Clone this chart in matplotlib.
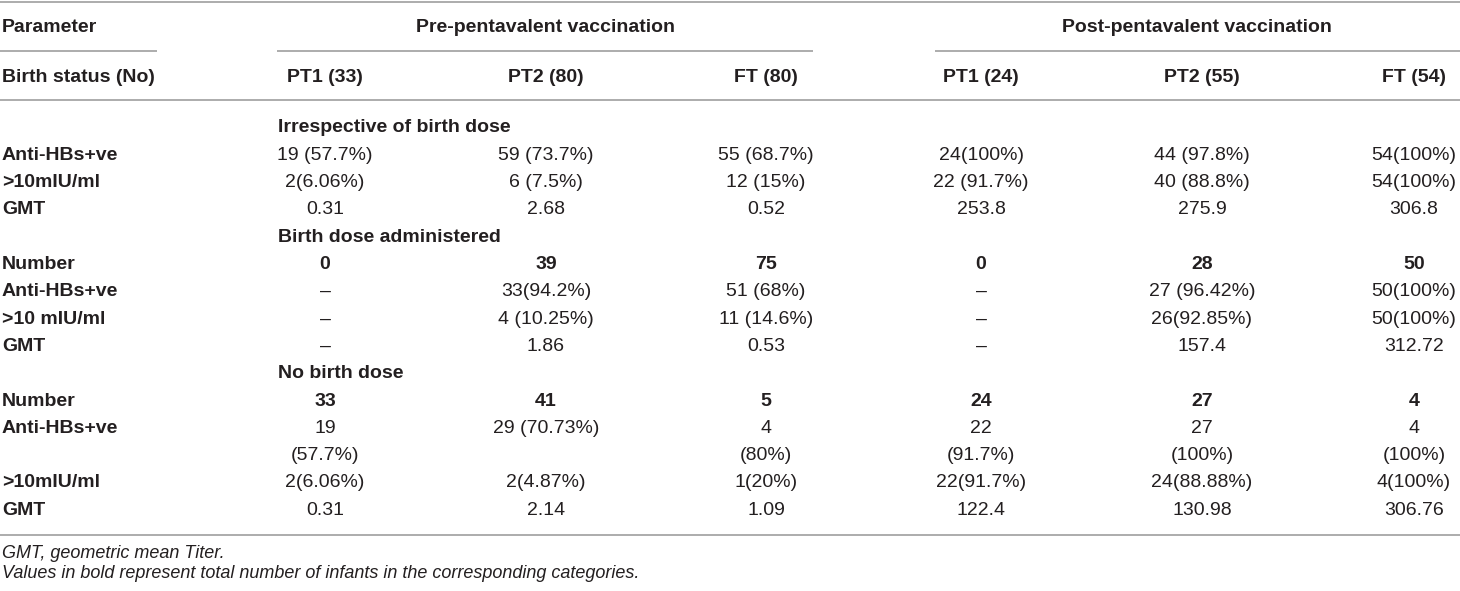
import matplotlib
matplotlib.use("Agg")
import matplotlib.pyplot as plt

plt.rcParams['font.family'] = ['Liberation Sans', 'DejaVu Sans']

# --- table content ---
groups = ["Pre-pentavalent vaccination", "Post-pentavalent vaccination"]
columns = ["PT1 (33)", "PT2 (80)", "FT (80)", "PT1 (24)", "PT2 (55)", "FT (54)"]
sections = ["Irrespective of birth dose", "Birth dose administered", "No birth dose"]

irr_labels = ["Anti-HBs+ve", ">10mIU/ml", "GMT"]
irr_anti = ["19 (57.7%)", "59 (73.7%)", "55 (68.7%)", "24(100%)", "44 (97.8%)", "54(100%)"]
irr_10 = ["2(6.06%)", "6 (7.5%)", "12 (15%)", "22 (91.7%)", "40 (88.8%)", "54(100%)"]
irr_gmt = ["0.31", "2.68", "0.52", "253.8", "275.9", "306.8"]

dose_labels = ["Number", "Anti-HBs+ve", ">10 mIU/ml", "GMT"]
dose_number = ["0", "39", "75", "0", "28", "50"]
dose_anti = ["\u2013", "33(94.2%)", "51 (68%)", "\u2013", "27 (96.42%)", "50(100%)"]
dose_10 = ["\u2013", "4 (10.25%)", "11 (14.6%)", "\u2013", "26(92.85%)", "50(100%)"]
dose_gmt = ["\u2013", "1.86", "0.53", "\u2013", "157.4", "312.72"]

nodose_labels = ["Number", "Anti-HBs+ve", ">10mIU/ml", "GMT"]
nodose_number = ["33", "41", "5", "24", "27", "4"]
nodose_anti = ["19\n(57.7%)", "29 (70.73%)", "4\n(80%)", "22\n(91.7%)", "27\n(100%)", "4\n(100%)"]
nodose_10 = ["2(6.06%)", "2(4.87%)", "1(20%)", "22(91.7%)", "24(88.88%)", "4(100%)"]
nodose_gmt = ["0.31", "2.14", "1.09", "122.4", "130.98", "306.76"]

footnotes = ["GMT, geometric mean Titer.",
             "Values in bold represent total number of infants in the corresponding categories."]

# --- layout (pixel units) ---
W, H = 1460, 591
col_x = [325, 546, 766, 981, 1202, 1414]
group_x = [545, 1197]
group_lines = [(277, 813), (935, 1460)]
row_h = 27.3
fs = 14
txt = '#231f20'
rule = '#a6a6a6'

fig = plt.figure(figsize=(W / 100, H / 100), dpi=100)
ax = fig.add_axes([0, 0, 1, 1])
ax.set_xlim(0, W)
ax.set_ylim(H, 0)
ax.axis('off')


def hline(y, x0, x1):
    ax.plot([x0, x1], [y, y], color=rule, lw=1.3, solid_capstyle='butt')


def put(x, y, s, ha='center', bold=False, italic=False, size=fs):
    ax.text(x, y, s, ha=ha, va='center', fontsize=size, color=txt,
            fontweight='bold' if bold else 'normal',
            fontstyle='italic' if italic else 'normal')


# header
hline(1.5, 0, W)
put(2, 27, "Parameter", ha='left', bold=True)
for gx, g in zip(group_x, groups):
    put(gx, 27, g, bold=True)
hline(51, 0, 157)
for x0, x1 in group_lines:
    hline(51, x0, x1)
put(2, 77, "Birth status (No)", ha='left', bold=True)
for cx, c in zip(col_x, columns):
    put(cx, 77, c, bold=True)
hline(100, 0, W)

# body
blocks = [
    (sections[0], irr_labels, [irr_anti, irr_10, irr_gmt], None),
    (sections[1], dose_labels, [dose_number, dose_anti, dose_10, dose_gmt], 0),
    (sections[2], nodose_labels, [nodose_number, nodose_anti, nodose_10, nodose_gmt], 0),
]
y = 128
for title, labels, rows, bold_row in blocks:
    put(278, y, title, ha='left', bold=True)
    y += row_h
    for i, (lab, vals) in enumerate(zip(labels, rows)):
        put(2, y, lab, ha='left', bold=True)
        nlines = 1
        for cx, v in zip(col_x, vals):
            parts = v.split("\n")
            nlines = max(nlines, len(parts))
            for k, p in enumerate(parts):
                put(cx, y + k * row_h, p, bold=(i == bold_row))
        y += row_h * nlines

hline(535, 0, W)
put(2, 553, footnotes[0], ha='left', italic=True, size=13)
put(2, 574, footnotes[1], ha='left', italic=True, size=13)

fig.savefig("out.png", dpi=100)
